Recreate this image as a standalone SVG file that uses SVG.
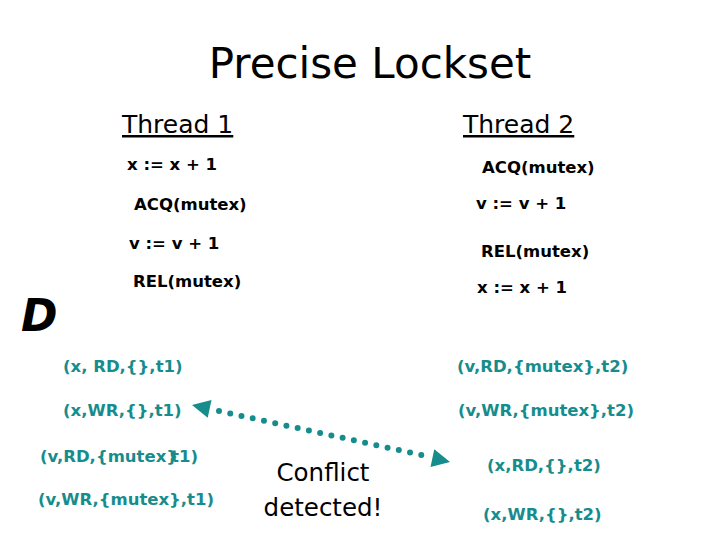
<svg xmlns="http://www.w3.org/2000/svg" width="720" height="540" viewBox="0 0 720 540">
<style>
.title{font-family:"DejaVu Sans",Verdana,sans-serif;font-size:42px;fill:#000}
.th{font-family:"DejaVu Sans",Verdana,sans-serif;font-size:25px;fill:#000;text-decoration:underline}
.code{font-family:"DejaVu Sans",Verdana,sans-serif;font-weight:bold;font-size:16.5px;fill:#000}
.tup{font-family:"DejaVu Sans",Verdana,sans-serif;font-weight:bold;font-size:16.5px;fill:#178C8C}
.big{font-family:"DejaVu Sans",Verdana,sans-serif;font-size:24.5px;fill:#000}
.d{font-family:"DejaVu Sans",Verdana,sans-serif;font-weight:bold;font-style:italic;font-size:44px;fill:#000}
.dot{stroke:#178C8C;stroke-width:6;stroke-linecap:round;stroke-dasharray:0 11.5;fill:none}
.head{fill:#178C8C}
</style>
<rect width="720" height="540" fill="#fff"/>
<text class="title" x="370" y="78" text-anchor="middle">Precise Lockset</text>
<g id="thread1">
<text class="th" x="122" y="133">Thread 1</text>
<text class="code" x="127" y="170">x := x + 1</text>
<text class="code" x="134" y="210">ACQ(mutex)</text>
<text class="code" x="129" y="249">v := v + 1</text>
<text class="code" x="133" y="287">REL(mutex)</text>
</g>
<g id="thread2">
<text class="th" x="463" y="133">Thread 2</text>
<text class="code" x="482" y="173">ACQ(mutex)</text>
<text class="code" x="476" y="209">v := v + 1</text>
<text class="code" x="481" y="257">REL(mutex)</text>
<text class="code" x="477" y="293">x := x + 1</text>
</g>
<text class="d" x="21" y="331">D</text>
<g id="left-tuples">
<text class="tup" x="63" y="372">(x, RD,{},t1)</text>
<text class="tup" id="t1wr" x="63" y="416">(x,WR,{},t1)</text>
<text class="tup" x="40" y="462">(v,RD,{mutex}<tspan dx="-7">t1)</tspan></text>
<text class="tup" x="38" y="505">(v,WR,{mutex},t1)</text>
</g>
<g id="right-tuples">
<text class="tup" x="457" y="372">(v,RD,{mutex},t2)</text>
<text class="tup" x="458" y="416">(v,WR,{mutex},t2)</text>
<text class="tup" x="487" y="471">(x,RD,{},t2)</text>
<text class="tup" x="483" y="520">(x,WR,{},t2)</text>
</g>
<g id="conflict">
<text class="big" x="323" y="481" text-anchor="middle">Conflict</text>
<text class="big" x="323" y="516" text-anchor="middle">detected!</text>
</g>
<g id="connectors">
<line class="dot" x1="219" y1="411" x2="426" y2="456"/>
<polygon class="head" points="192,405 211.5,400.1 207.7,417.7"/>
<polygon class="head" points="450,462 434.3,449.3 430.5,466.9"/>
</g>
</svg>
